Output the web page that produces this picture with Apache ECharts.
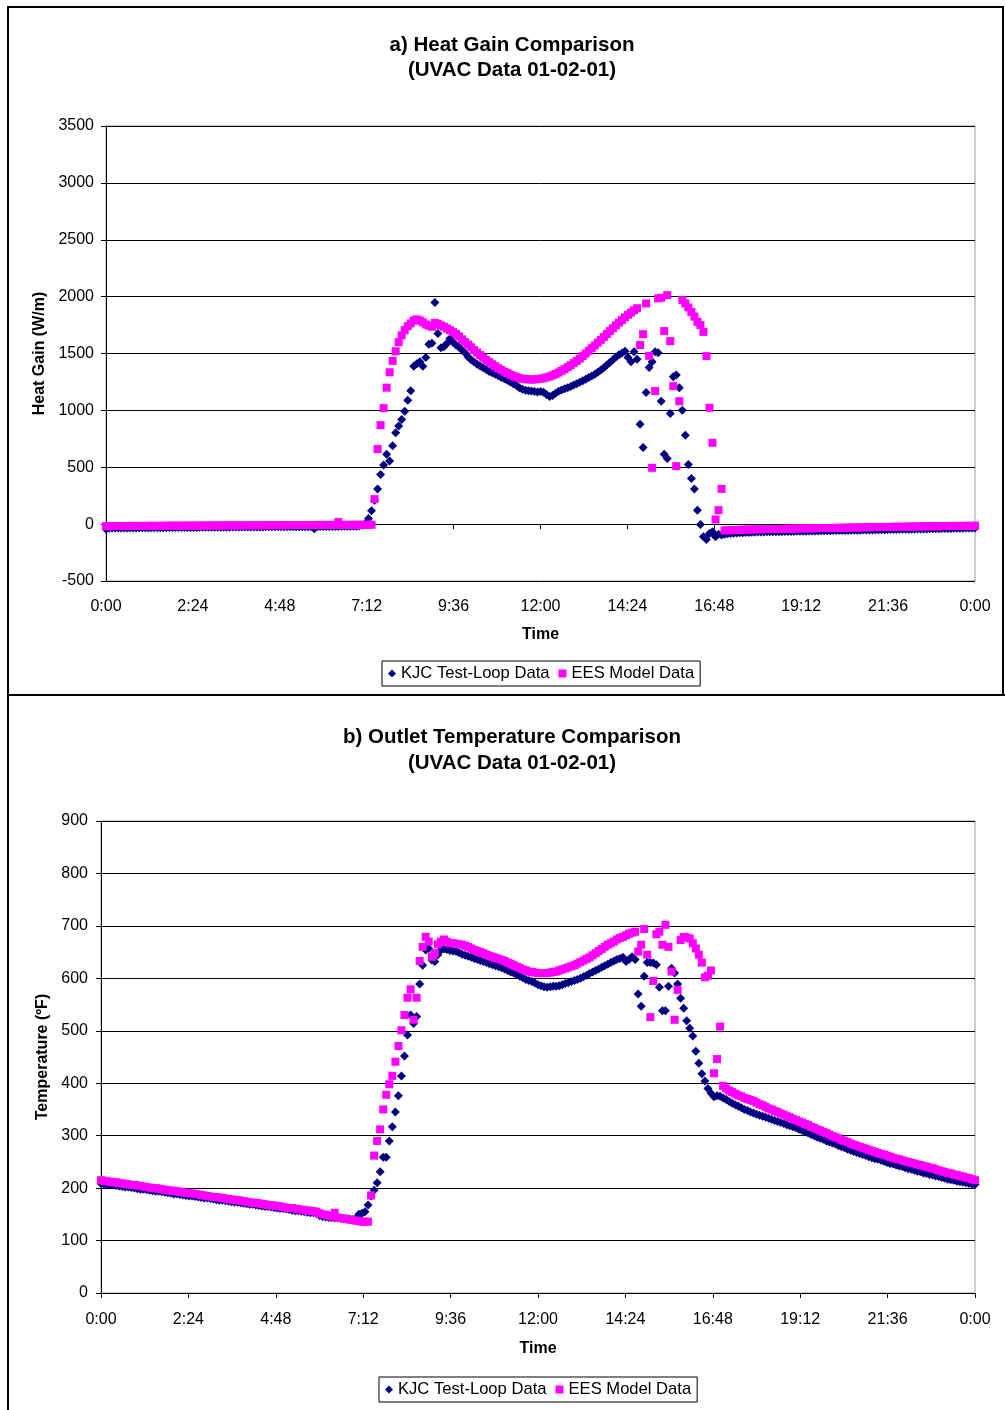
<!DOCTYPE html>
<html>
<head>
<meta charset="utf-8">
<script src="https://cdn.jsdelivr.net/npm/echarts@6/dist/echarts.min.js"></script>
<style>
html,body{margin:0;padding:0;background:#fff;}
#c{width:1005px;height:1410px;}
</style>
</head>
<body>
<div id="c"></div>
<script>
// 5-minute samples from 0:00 to 24:00 (289 values each)
const STEP_MIN = 5;
const X_TICK_LABELS = ['0:00','2:24','4:48','7:12','9:36','12:00','14:24','16:48','19:12','21:36','0:00'];
const SERIES_NAMES = ['KJC Test-Loop Data', 'EES Model Data'];

// a) Heat gain (W/m)
const KJC_HEAT = [
-42,-36,-35,-35,-34,-34,-34,-33,-33,-33,-33,-32,
-32,-32,-32,-31,-31,-31,-31,-31,-30,-30,-30,-30,
-30,-30,-29,-29,-29,-29,-29,-28,-28,-28,-28,-28,
-28,-27,-27,-27,-27,-27,-26,-26,-26,-26,-26,-26,
-25,-25,-25,-25,-25,-24,-24,-24,-24,-24,-24,-23,
-23,-23,-23,-23,-22,-22,-22,-22,-22,-40,-24,-21,
-21,-21,-20,-20,-20,-20,-19,-19,-19,-18,-18,-18,
-15,-10,5,50,117,210,308,437,519,615,554,688,
803,862,920,993,1090,1172,1389,1410,1427,1389,1465,1582,
1590,1949,1676,1550,1559,1588,1632,1600,1574,1555,1530,1505,
1470,1445,1425,1405,1390,1375,1360,1342,1330,1318,1305,1290,
1277,1265,1250,1235,1218,1200,1185,1178,1172,1170,1165,1162,
1165,1160,1140,1122,1130,1150,1168,1180,1190,1200,1210,1222,
1235,1248,1260,1273,1288,1302,1318,1335,1355,1375,1398,1420,
1445,1470,1490,1505,1520,1465,1427,1515,1450,879,674,1157,
1377,1427,1515,1506,1081,615,577,973,1295,1310,1198,1002,
782,525,402,308,123,-3,-112,-135,-82,-68,-112,-90,
-95,-88,-85,-82,-80,-78,-76,-75,-74,-73,-72,-71,
-70,-69,-69,-68,-68,-67,-67,-66,-66,-65,-65,-64,
-64,-63,-63,-62,-62,-61,-61,-60,-60,-59,-59,-58,
-58,-57,-57,-56,-56,-55,-55,-54,-54,-53,-53,-52,
-52,-51,-51,-50,-50,-49,-49,-48,-48,-47,-47,-46,
-46,-45,-45,-44,-44,-43,-43,-42,-42,-41,-41,-40,
-40,-39,-39,-38,-38,-37,-37,-36,-36,-35,-35,-34,
-34
];
const EES_HEAT = [
-18,-18,-18,-17,-17,-17,-17,-17,-16,-16,-16,-16,
-16,-16,-15,-15,-15,-15,-15,-15,-14,-14,-14,-14,
-14,-14,-14,-13,-13,-13,-13,-13,-13,-12,-12,-12,
-12,-12,-12,-12,-11,-11,-11,-11,-11,-11,-11,-10,
-10,-10,-10,-10,-10,-10,-9,-9,-9,-9,-9,-9,
-9,-9,-8,-8,-8,-8,-8,-8,-8,-8,-7,-7,
-7,-7,-7,-7,-7,18,-7,-7,-6,-6,-6,-6,
-6,-6,-6,-5,-5,220,660,870,1020,1200,1335,1435,
1520,1600,1660,1705,1740,1765,1790,1800,1790,1775,1755,1745,
1735,1770,1760,1748,1735,1720,1705,1688,1672,1650,1625,1600,
1578,1555,1530,1508,1486,1465,1443,1425,1405,1388,1370,1355,
1340,1328,1315,1302,1293,1284,1278,1275,1272,1271,1272,1275,
1279,1283,1290,1298,1308,1320,1333,1348,1363,1380,1397,1415,
1435,1455,1477,1500,1523,1547,1570,1595,1620,1645,1672,1697,
1722,1748,1772,1795,1818,1840,1860,1880,1898,1575,1670,1940,
1480,495,1170,1985,1990,1697,2013,1609,1213,510,1081,1969,
1940,1905,1865,1825,1779,1750,1690,1477,1023,715,41,123,
310,-55,-54,-53,-52,-51,-50,-49,-48,-48,-47,-46,
-45,-45,-44,-44,-43,-43,-42,-42,-41,-41,-40,-40,
-39,-39,-38,-38,-37,-37,-36,-36,-35,-35,-34,-34,
-34,-33,-33,-32,-32,-31,-31,-30,-30,-29,-29,-28,
-28,-27,-27,-26,-26,-26,-25,-25,-24,-24,-23,-23,
-23,-22,-22,-21,-21,-21,-20,-20,-19,-19,-19,-18,
-18,-18,-17,-17,-17,-16,-16,-16,-16,-15,-15,-15,
-14
];

// b) Outlet temperature (ºF)
const KJC_TEMP = [
209,208,207,206,206,205,204,203,202,202,201,200,
199,198,198,197,196,195,194,194,193,192,191,190,
189,189,188,187,186,185,185,184,183,182,181,181,
180,179,178,177,177,176,175,174,173,173,172,171,
170,169,169,168,167,166,165,165,164,163,162,161,
161,160,159,158,157,157,156,155,154,153,153,152,
148,146,145,144,144,143,143,142,142,141,141,140,
142,150,152,155,168,185,196,210,231,259,259,290,
317,345,376,414,452,492,530,514,527,589,625,654,
657,635,632,645,654,656,655,653,652,651,649,646,
644,642,640,638,636,634,632,630,628,626,624,622,
620,618,615,612,610,607,604,601,598,596,594,591,
588,586,584,583,584,585,585,586,588,590,592,594,
596,598,600,603,606,609,612,615,618,621,624,627,
630,633,636,638,640,632,636,641,636,570,547,604,
630,630,629,626,583,538,538,585,619,610,589,562,
543,519,505,490,461,438,418,404,390,381,374,376,
375,372,369,365,362,359,356,353,350,348,345,343,
341,339,337,335,333,331,329,327,325,323,321,319,
317,315,312,310,307,305,302,300,297,295,293,290,
288,286,284,281,279,277,274,272,270,268,266,264,
262,260,258,256,255,253,251,249,247,246,244,242,
241,239,237,236,234,232,231,229,228,226,225,223,
222,220,219,217,216,215,213,212,211,210,209,208,
207
];
const EES_TEMP = [
215,214,213,212,211,211,210,209,208,207,206,206,
205,204,203,202,201,200,200,199,198,197,196,195,
195,194,193,192,191,190,190,189,188,187,186,185,
184,183,183,182,181,180,179,178,178,177,176,175,
174,173,172,172,171,170,169,168,167,167,166,165,
164,163,162,162,161,160,159,158,157,157,156,155,
152,150,149,147,146,153,144,143,142,141,140,139,
138,137,136,136,136,186,262,290,312,350,378,398,
414,441,471,501,530,563,579,521,563,633,660,679,
670,641,648,665,670,674,670,667,667,666,665,664,
662,660,657,654,652,650,648,645,643,641,639,637,
635,633,630,628,625,622,620,617,615,613,612,611,
610,610,610,610,611,612,613,615,617,619,621,623,
625,628,631,634,637,640,644,648,652,656,660,664,
667,670,674,677,679,682,685,687,689,651,664,694,
645,526,595,684,689,664,702,660,613,521,578,673,
679,678,676,667,657,645,630,602,605,615,419,446,
508,395,390,386,383,380,377,375,372,370,368,366,
363,360,358,355,352,350,347,345,342,340,337,335,
332,330,327,325,322,320,317,315,312,310,307,305,
302,299,297,295,292,290,288,285,283,281,279,277,
275,273,271,269,267,265,264,262,260,258,256,255,
253,251,250,248,247,245,244,242,241,239,238,236,
234,232,231,229,228,226,225,223,222,220,219,217,
215
];

const FONT = "'Liberation Sans', Arial, sans-serif";
const NAVY = '#000080';
const PINK = '#FF00FF';

function toXY(arr) { return arr.map((v, i) => [i * STEP_MIN, v]); }
function fmtTime(v) { return X_TICK_LABELS[Math.round(v / 144)] || ''; }

function xAxis(gridIndex, margin, nameGap) {
  return {
    type: 'value', gridIndex, min: 0, max: 1440, interval: 144,
    axisLine: { show: true, lineStyle: { color: '#000', width: 1 } },
    axisTick: { show: true, inside: false, length: 5, lineStyle: { color: '#000' } },
    axisLabel: { formatter: fmtTime, fontSize: 16, color: '#000', fontFamily: FONT, margin, showMinLabel: true, showMaxLabel: true },
    splitLine: { show: false },
    name: 'Time', nameLocation: 'middle', nameGap,
    nameTextStyle: { fontSize: 16, fontWeight: 'bold', color: '#000', fontFamily: FONT }
  };
}
function yAxis(gridIndex, min, max, interval, name, nameGap, margin) {
  return {
    type: 'value', gridIndex, min, max, interval,
    axisLine: { show: true, lineStyle: { color: '#000', width: 1 } },
    axisTick: { show: true, inside: false, length: 5, lineStyle: { color: '#000' } },
    axisLabel: { fontSize: 16, color: '#000', fontFamily: FONT, margin, formatter: v => String(v) },
    splitLine: { show: true, lineStyle: { color: '#000', width: 1 } },
    name, nameLocation: 'middle', nameGap, nameRotate: 90,
    nameTextStyle: { fontSize: 16, fontWeight: 'bold', color: '#000', fontFamily: FONT }
  };
}
function legend(left, top) {
  return {
    left, top, orient: 'horizontal',
    data: SERIES_NAMES,
    borderColor: '#000', borderWidth: 1, borderRadius: 0,
    padding: [4, 6, 4, 6], itemGap: 9, itemWidth: 8, itemHeight: 8,
    selectedMode: false,
    textStyle: { fontSize: 16.6, color: '#000', fontFamily: FONT }
  };
}
function scatter(name, data, xi, yi) {
  const isK = name === SERIES_NAMES[0];
  return {
    type: 'scatter', name, xAxisIndex: xi, yAxisIndex: yi,
    data: toXY(data),
    symbol: isK ? 'diamond' : 'rect',
    symbolSize: isK ? 9 : 8,
    itemStyle: { color: isK ? NAVY : PINK, opacity: 1 },
    emphasis: { disabled: true },
    animation: false
  };
}

const chart = echarts.init(document.getElementById('c'), null, { renderer: 'canvas' });
chart.setOption({
  backgroundColor: '#fff',
  animation: false,
  textStyle: { fontFamily: FONT },
  title: [
    { text: 'a) Heat Gain Comparison\n(UVAC Data 01-02-01)', left: 507, top: 28, textAlign: 'center',
      textStyle: { fontSize: 20.5, fontWeight: 'bold', color: '#000', lineHeight: 25, fontFamily: FONT } },
    { text: 'b) Outlet Temperature Comparison\n(UVAC Data 01-02-01)', left: 507, top: 719, textAlign: 'center',
      textStyle: { fontSize: 20.5, fontWeight: 'bold', color: '#000', lineHeight: 26, fontFamily: FONT } }
  ],
  grid: [
    { left: 106, top: 126, width: 869, height: 455, show: true, borderColor: '#999', borderWidth: 1, backgroundColor: 'transparent' },
    { left: 101, top: 821, width: 874, height: 472, show: true, borderColor: '#999', borderWidth: 1, backgroundColor: 'transparent' }
  ],
  xAxis: [ xAxis(0, 18, 46), xAxis(1, 19, 48) ],
  yAxis: [
    yAxis(0, -500, 3500, 500, 'Heat Gain (W/m)', 54, 12),
    yAxis(1, 0, 900, 100, 'Temperature (ºF)', 50, 13)
  ],
  legend: [ legend(382, 661), legend(379, 1377) ],
  series: [
    scatter(SERIES_NAMES[0], KJC_HEAT, 0, 0),
    scatter(SERIES_NAMES[1], EES_HEAT, 0, 0),
    scatter(SERIES_NAMES[0], KJC_TEMP, 1, 1),
    scatter(SERIES_NAMES[1], EES_TEMP, 1, 1)
  ],
  graphic: [
    { type: 'line', shape: { x1: 8, y1: 7, x2: 1003, y2: 7 }, style: { stroke: '#000', lineWidth: 2 } },
    { type: 'line', shape: { x1: 8, y1: 6, x2: 8, y2: 1410 }, style: { stroke: '#000', lineWidth: 2 } },
    { type: 'line', shape: { x1: 1003, y1: 6, x2: 1003, y2: 696 }, style: { stroke: '#000', lineWidth: 2 } },
    { type: 'line', shape: { x1: 8, y1: 695, x2: 1005, y2: 695 }, style: { stroke: '#000', lineWidth: 2 } }
  ]
});
</script>
</body>
</html>
